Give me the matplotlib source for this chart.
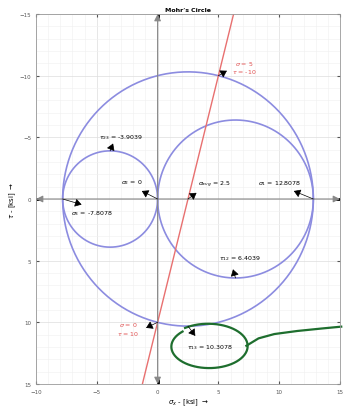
import matplotlib
matplotlib.use("Agg")
import matplotlib.pyplot as plt
import numpy as np

# stress state (ksi)
sigma_x, sigma_y, tau_xy = 5, 0, 10
sigma_1, sigma_2, sigma_3 = 12.8078, 0, -7.8078
sigma_avg = 2.5
tau_12, tau_23, tau_13 = 6.4039, -3.9039, 10.3078

circle_centers = [-3.9039, 6.4039, 2.5]
circle_radii = [3.9039, 6.4039, 10.3078]

# hand drawn green mark round the tau_13 label
green_ellipse = dict(cx=4.2, cy=11.95, w=6.6, h=3.7)
green_tail_x = [7.3, 8.3, 9.6, 11.5, 13.5, 15.1]
green_tail_y = [11.9, 11.3, 10.95, 10.7, 10.5, 10.35]


def arrow_label(ax, text, text_xy, start_xy, point_xy, color="black"):
    ax.text(text_xy[0], text_xy[1], text, fontsize=4.5, color=color,
            ha="center", va="center", linespacing=1.1)
    ax.annotate("", xy=point_xy, xytext=start_xy,
                arrowprops=dict(arrowstyle="<|-,head_length=0.4,head_width=0.25",
                                color="black", lw=0.5, shrinkA=0, shrinkB=0))


fig = plt.figure(figsize=(3.44, 4.10), dpi=100)
ax = fig.add_axes([36 / 344, 25 / 410, 304 / 344, 370 / 410])
ax.set_xlim(-10, 15)
ax.set_ylim(15, -15)

ax.set_xticks(np.arange(-10, 16, 5))
ax.set_yticks(np.arange(-15, 16, 5))
ax.minorticks_on()
ax.grid(which="major", color="#dddddd", lw=0.5)
ax.grid(which="minor", color="#f0f0f0", lw=0.4)
ax.tick_params(which="both", direction="in", top=True, right=True,
               labelsize=4, colors="#555555", length=2)
ax.tick_params(which="minor", length=0)
for s in ax.spines.values():
    s.set_color("#999999")
    s.set_linewidth(0.6)

# axes through origin with arrow heads
ax.annotate("", xy=(-10, 0), xytext=(15, 0),
            arrowprops=dict(arrowstyle="<|-|>,head_length=0.4,head_width=0.2",
                            color="#888888", lw=0.8, shrinkA=0, shrinkB=0))
ax.annotate("", xy=(0, -15), xytext=(0, 15),
            arrowprops=dict(arrowstyle="<|-|>,head_length=0.4,head_width=0.2",
                            color="#888888", lw=0.8, shrinkA=0, shrinkB=0))
ax.plot([-10, -9.6], [0, 0], color="black", lw=2, solid_capstyle="butt")
ax.plot([14.6, 15], [0, 0], color="black", lw=2, solid_capstyle="butt")
ax.plot([0, 0], [-15, -14.6], color="black", lw=2, solid_capstyle="butt")
ax.plot([0, 0], [14.6, 15], color="black", lw=2, solid_capstyle="butt")

# Mohr circles
theta = np.linspace(0, 2 * np.pi, 400)
for c, r in zip(circle_centers, circle_radii):
    ax.plot(c + r * np.cos(theta), r * np.sin(theta), color="#8c8ce0", lw=1.2)

# line between the X and Y points
slope = (sigma_x - sigma_y) / (-tau_xy - tau_xy)
ty = np.array([-15, 15])
ax.plot(sigma_avg + slope * ty, ty, color="#e87070", lw=1.0)

arrow_label(ax, r"$\tau_{23}$ = %.4f" % tau_23, (-3.0, -5.1), (-3.66, -4.5),
            (circle_centers[0], -circle_radii[0]))
arrow_label(ax, r"$\sigma_2$ = %g" % sigma_2, (-2.1, -1.4), (-1.3, -0.65), (sigma_2, 0))
arrow_label(ax, r"$\sigma_{avg}$ = %g" % sigma_avg, (4.7, -1.25), (3.2, -0.5), (sigma_avg, 0))
arrow_label(ax, r"$\sigma_1$ = %.4f" % sigma_1, (10.0, -1.3), (11.2, -0.65), (sigma_1, 0))
arrow_label(ax, r"$\sigma_3$ = %.4f" % sigma_3, (-5.4, 1.1), (-6.25, 0.45), (sigma_3, 0))
arrow_label(ax, r"$\tau_{12}$ = %.4f" % tau_12, (6.8, 4.75), (6.2, 5.7),
            (circle_centers[1], circle_radii[1]))
arrow_label(ax, r"$\tau_{13}$ = %.4f" % tau_13, (4.3, 11.95), (3.1, 11.1),
            (circle_centers[2], circle_radii[2]))
arrow_label(ax, "$\\sigma$ = %g\n$\\tau$ = %g" % (sigma_x, -tau_xy), (7.1, -10.7),
            (5.7, -10.4), (sigma_x, -tau_xy), color="#e05050")
arrow_label(ax, "$\\sigma$ = %g\n$\\tau$ = %g" % (sigma_y, tau_xy), (-2.4, 10.5),
            (-0.95, 10.45), (sigma_y, tau_xy), color="#e05050")

# green marker, open at its upper left like the pen stroke
g = green_ellipse
phi = np.linspace(1.3 * np.pi, 3.25 * np.pi, 200)
shrink = 1 - 0.08 * (phi - phi[0]) / (phi[-1] - phi[0])
ax.plot(g["cx"] + g["w"] / 2 * np.cos(phi) * shrink,
        g["cy"] + g["h"] / 2 * np.sin(phi) * shrink,
        color="#1e6e2e", lw=1.6, clip_on=False)
ax.plot(green_tail_x, green_tail_y, color="#1e6e2e", lw=1.6, clip_on=False)

ax.set_title("Mohr's Circle", fontsize=4.5, fontweight="bold", pad=2)
ax.set_xlabel(r"$\sigma_x$ - [ksi] $\rightarrow$", fontsize=5, labelpad=2)
ax.set_ylabel(r"$\tau$ - [ksi] $\rightarrow$", fontsize=5, labelpad=1)

fig.savefig("out.png", dpi=100)
